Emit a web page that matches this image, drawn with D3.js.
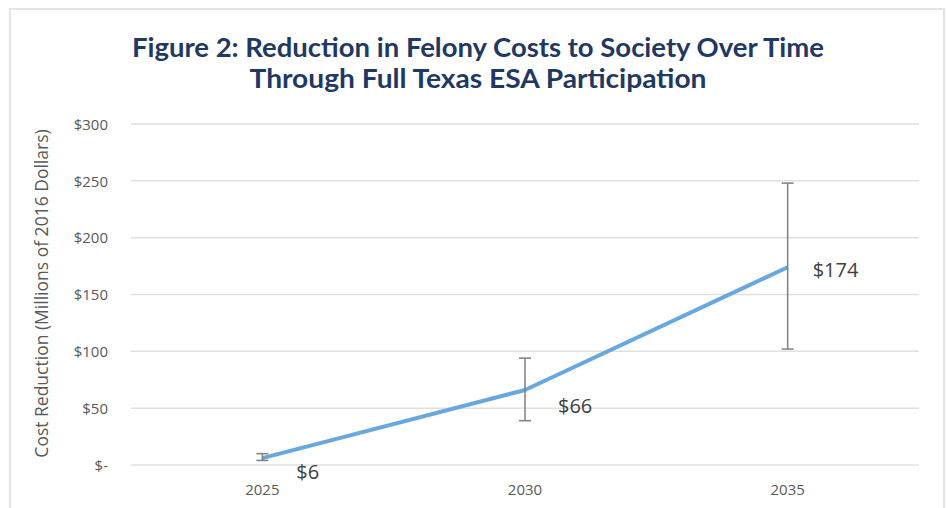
<!DOCTYPE html>
<html>
<head>
<meta charset="utf-8">
<script src="https://cdn.jsdelivr.net/npm/d3@7"></script>
<style>
  html, body { margin: 0; padding: 0; background: #fff; }
  svg { display: block; }
</style>
</head>
<body>
<svg id="chart" width="947" height="508"></svg>
<script>
// ---- data ----
const titleLines = ["Figure 2: Reduction in Felony Costs to Society Over Time", "Through Full Texas ESA Participation"];
const years = ["2025", "2030", "2035"];
const values = [6, 66, 174];
const errLow = [4, 39, 102];
const errHigh = [10, 94, 248];
const dataLabels = ["$6", "$66", "$174"];
const yTicks = [0, 50, 100, 150, 200, 250, 300];
const yTickLabels = ["$-", "$50", "$100", "$150", "$200", "$250", "$300"];
const yAxisTitle = "Cost Reduction (Millions of 2016 Dollars)";

// ---- layout ----
const W = 947, H = 508;
const plot = { left: 131, right: 919, top: 124, bottom: 465 };
const svg = d3.select("#chart");

// outer frame
svg.append("rect")
  .attr("x", 10).attr("y", 9).attr("width", 934).attr("height", 520)
  .attr("fill", "none").attr("stroke", "#e4e4e4").attr("stroke-width", 2);

// title
const titleG = svg.append("g");
const titleWidths = [692, 457];
titleLines.forEach((t, i) => {
  titleG.append("text")
    .attr("x", 478).attr("y", 57 + i * 31)
    .attr("text-anchor", "middle")
    .attr("font-family", "Lato, 'Open Sans', sans-serif")
    .attr("font-weight", 700)
    .attr("font-size", 26)
    .attr("fill", "#1F3864")
    .attr("textLength", titleWidths[i])
    .attr("lengthAdjust", "spacingAndGlyphs")
    .text(t);
});

// scales
const x = d3.scaleBand().domain(years).range([plot.left, plot.right]).padding(0);
const y = d3.scaleLinear().domain([0, 300]).range([plot.bottom, plot.top]);

// gridlines
svg.append("g").selectAll("line").data(yTicks).join("line")
  .attr("x1", plot.left).attr("x2", plot.right)
  .attr("y1", d => y(d)).attr("y2", d => y(d))
  .attr("stroke", "#e0e0e0").attr("stroke-width", 1.5);

// y axis labels
const yAxis = d3.axisLeft(y).tickValues(yTicks)
  .tickFormat((d, i) => yTickLabels[i]).tickSize(0).tickPadding(0);
const yg = svg.append("g").attr("transform", `translate(${plot.left - 23},0)`).call(yAxis);
yg.select(".domain").remove();
yg.selectAll("text")
  .attr("font-family", "'Open Sans', sans-serif")
  .attr("font-size", 15)
  .attr("fill", "#595959")
  .attr("dy", "0.35em");

// x axis labels
const xAxis = d3.axisBottom(x).tickSize(0).tickPadding(0);
const xg = svg.append("g").attr("transform", `translate(0,${plot.bottom + 19})`).call(xAxis);
xg.select(".domain").remove();
xg.selectAll("text")
  .attr("font-family", "'Open Sans', sans-serif")
  .attr("font-size", 15)
  .attr("fill", "#595959")
  .attr("dy", "0.71em");

// y axis title
svg.append("text")
  .attr("transform", `translate(48,${(plot.top + plot.bottom) / 2 - 1}) rotate(-90)`)
  .attr("text-anchor", "middle")
  .attr("font-family", "'Open Sans', sans-serif")
  .attr("font-size", 17.5)
  .attr("fill", "#595959")
  .text(yAxisTitle);

const cx = d => x(d) + x.bandwidth() / 2;

// line
const line = d3.line().x((d, i) => cx(years[i])).y(d => y(d));
svg.append("path")
  .datum(values)
  .attr("d", line)
  .attr("fill", "none")
  .attr("stroke", "#68A8DE")
  .attr("stroke-width", 4)
  .attr("stroke-linejoin", "round");

// error bars
const eb = svg.append("g").attr("stroke", "#7f7f7f").attr("stroke-width", 1.5);
years.forEach((yr, i) => {
  const px = cx(yr);
  eb.append("line").attr("x1", px).attr("x2", px).attr("y1", y(errLow[i])).attr("y2", y(errHigh[i]));
  eb.append("line").attr("x1", px - 6).attr("x2", px + 6).attr("y1", y(errLow[i])).attr("y2", y(errLow[i]));
  eb.append("line").attr("x1", px - 6).attr("x2", px + 6).attr("y1", y(errHigh[i])).attr("y2", y(errHigh[i]));
});

// data labels
const labelOffsets = [[34, 21], [33, 23], [25, 10]];
svg.append("g").selectAll("text").data(dataLabels).join("text")
  .attr("x", (d, i) => cx(years[i]) + labelOffsets[i][0])
  .attr("y", (d, i) => y(values[i]) + labelOffsets[i][1])
  .attr("font-family", "'Open Sans', sans-serif")
  .attr("font-size", 20)
  .attr("fill", "#404040")
  .text(d => d);
</script>
</body>
</html>
